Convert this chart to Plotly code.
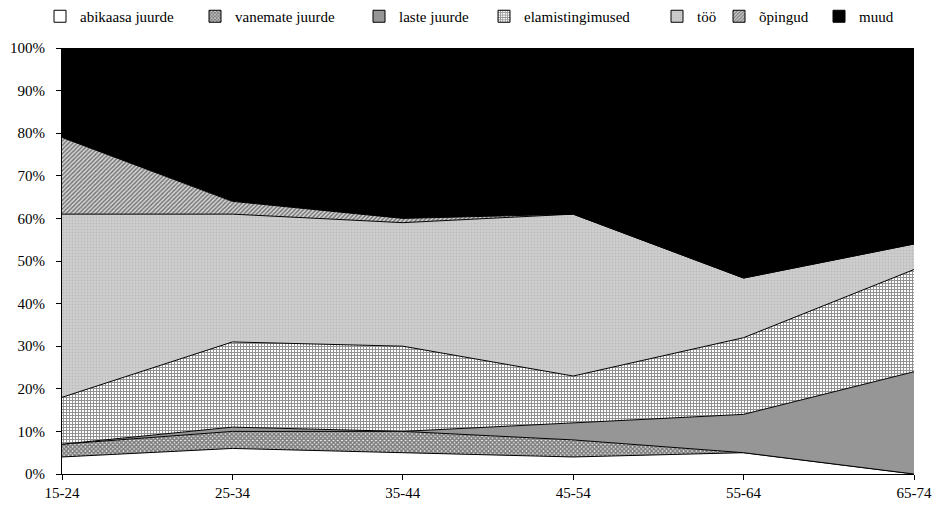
import plotly.graph_objects as go

age_groups = ["15-24", "25-34", "35-44", "45-54", "55-64", "65-74"]

abikaasa_juurde = [4, 6, 5, 4, 5, 0]
vanemate_juurde = [3, 4, 5, 4, 0, 0]
laste_juurde = [0, 1, 0, 4, 9, 24]
elamistingimused = [11, 20, 20, 11, 18, 24]
too = [43, 30, 29, 38, 14, 6]
opingud = [18, 3, 1, 0, 0, 0]
muud = [21, 36, 40, 39, 54, 46]

# (name, values, base colour, optional hatch pattern)
series = [
    ("abikaasa juurde", abikaasa_juurde, "white", None),
    ("vanemate juurde", vanemate_juurde, "white",
     dict(shape="x", fgcolor="black", bgcolor="white", size=3, solidity=0.8)),
    ("laste juurde", laste_juurde, "#969696", None),
    ("elamistingimused", elamistingimused, "white",
     dict(shape="+", fgcolor="#222222", bgcolor="white", size=3, solidity=0.55)),
    ("töö", too, "#c4c4c4",
     dict(shape=".", fgcolor="#a8a8a8", bgcolor="#d0d0d0", size=3, solidity=0.4)),
    ("õpingud", opingud, "white",
     dict(shape="/", fgcolor="#111111", bgcolor="#d8d8d8", size=3, solidity=0.5)),
    ("muud", muud, "black", None),
]

# centre (px) of each legend key box across the top row
legend_box_px = [60, 215, 379, 504, 677, 739, 839]

font_family = "Liberation Serif, Times New Roman, serif"

fig = go.Figure()
legend_layout = {}
xs = list(range(len(age_groups)))
for i, (name, vals, color, pattern) in enumerate(series):
    area = dict(fillcolor=color)
    if pattern:
        area["fillpattern"] = pattern
    fig.add_trace(go.Scatter(
        x=xs, y=vals, name=name, mode="lines", stackgroup="one",
        line=dict(color="black", width=1), showlegend=False, **area,
    ))

    # square legend key drawn as an empty bar trace
    key = "legend" if i == 0 else f"legend{i + 1}"
    marker = dict(color=color, line=dict(color="black", width=1))
    if pattern:
        marker["pattern"] = pattern
    fig.add_trace(go.Bar(
        x=[None], y=[None], name=name, marker=marker,
        showlegend=True, legend=key, hoverinfo="skip",
    ))
    legend_layout[key] = dict(
        xref="container", yref="container",
        x=(legend_box_px[i] - 20) / 942, xanchor="left",
        y=1.0, yanchor="top",
        font=dict(family=font_family, size=15, color="black"),
        itemwidth=30,
        bgcolor="rgba(0,0,0,0)",
    )

axis_common = dict(
    showgrid=False,
    zeroline=False,
    showline=True,
    linecolor="black",
    linewidth=1,
    ticks="outside",
    ticklen=5,
    tickcolor="black",
    tickfont=dict(family=font_family, size=15, color="black"),
)

fig.update_layout(
    width=942,
    height=508,
    margin=dict(l=62, r=28, t=48, b=34, autoexpand=False),
    paper_bgcolor="white",
    plot_bgcolor="white",
    font=dict(family=font_family, size=15, color="black"),
    showlegend=True,
    xaxis=dict(
        range=[0, 5],
        tickmode="array",
        tickvals=xs,
        ticktext=age_groups,
        **axis_common,
    ),
    yaxis=dict(
        range=[0, 100],
        tickvals=list(range(0, 101, 10)),
        ticktext=[f"{v}%" for v in range(0, 101, 10)],
        ticklabelstandoff=8,
        **axis_common,
    ),
    **legend_layout,
)

fig.write_html("out.html")
